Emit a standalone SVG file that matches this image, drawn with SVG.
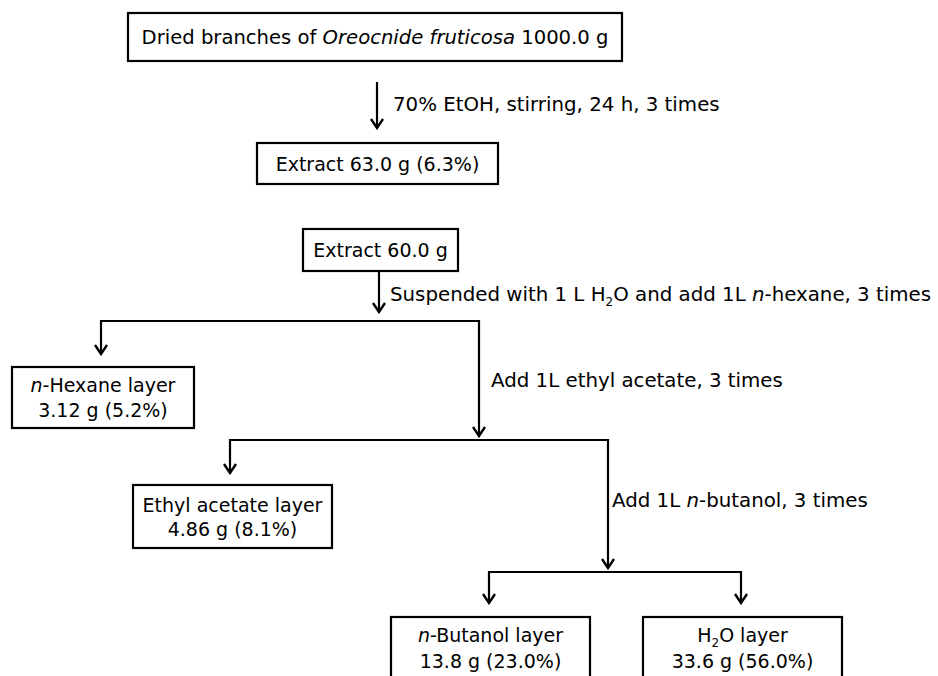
<svg xmlns="http://www.w3.org/2000/svg" width="938" height="676" viewBox="0 0 938 676">
<style>
  text { font-family: "DejaVu Sans", "Noto Sans", sans-serif; fill: #000; }
  .t { font-size: 19px; }
  .lab { font-size: 19.8px; }
  .big { font-size: 19.6px; }
  .box { fill: #fff; stroke: #000; stroke-width: 2.2; }
  .ln { fill: none; stroke: #000; stroke-width: 2.2; }
  .i { font-style: italic; }
  .sub { font-size: 12px; }
</style>
<defs>
  <marker id="ah" viewBox="0 0 14 14" markerWidth="14" markerHeight="14" refX="12.5" refY="7" orient="auto" markerUnits="userSpaceOnUse">
    <path d="M3.5,1 L12.5,7 L3.5,13" fill="none" stroke="#000" stroke-width="2.4"/>
  </marker>
</defs>
<rect width="938" height="676" fill="#fff"/>

<g id="connectors">
  <path class="ln" d="M377,82 V128" marker-end="url(#ah)"/>
  <path class="ln" d="M379,271 V312" marker-end="url(#ah)"/>
  <path class="ln" d="M101,321 H479 V436" marker-end="url(#ah)"/>
  <path class="ln" d="M101,320 V354" marker-end="url(#ah)"/>
  <path class="ln" d="M230,440 H608 V568" marker-end="url(#ah)"/>
  <path class="ln" d="M230,439 V473" marker-end="url(#ah)"/>
  <path class="ln" d="M489,572 H741 V603" marker-end="url(#ah)"/>
  <path class="ln" d="M489,571 V603" marker-end="url(#ah)"/>
</g>

<g id="labels">
  <text class="lab" x="393" y="111">70% EtOH, stirring, 24 h, 3 times</text>
  <text class="lab" x="390" y="301">Suspended with 1 L H<tspan class="sub" dy="5">2</tspan><tspan dy="-5">O and add 1L </tspan><tspan class="i">n</tspan>-hexane, 3 times</text>
  <text class="lab" x="491" y="387">Add 1L ethyl acetate, 3 times</text>
  <text class="lab" x="612" y="507">Add 1L <tspan class="i">n</tspan>-butanol, 3 times</text>
</g>

<g id="n1">
  <rect class="box" x="128" y="13" width="494" height="48"/>
  <text class="big" x="375" y="44" text-anchor="middle">Dried branches of <tspan class="i">Oreocnide fruticosa</tspan> 1000.0 g</text>
</g>
<g id="n2">
  <rect class="box" x="257" y="143" width="241" height="41"/>
  <text class="t" x="377.5" y="171" text-anchor="middle">Extract 63.0 g (6.3%)</text>
</g>
<g id="n3">
  <rect class="box" x="303" y="229" width="155" height="42"/>
  <text class="t" x="380.5" y="257" text-anchor="middle">Extract 60.0 g</text>
</g>
<g id="n4">
  <rect class="box" x="12" y="367" width="182" height="61"/>
  <text class="t" x="103" y="392" text-anchor="middle"><tspan class="i">n</tspan>-Hexane layer</text>
  <text class="t" x="103" y="417" text-anchor="middle">3.12 g (5.2%)</text>
</g>
<g id="n5">
  <rect class="box" x="133" y="485" width="199" height="63"/>
  <text class="t" x="232.5" y="512" text-anchor="middle">Ethyl acetate layer</text>
  <text class="t" x="232.5" y="536" text-anchor="middle">4.86 g (8.1%)</text>
</g>
<g id="n6">
  <rect class="box" x="391" y="617" width="199" height="70"/>
  <text class="t" x="490.5" y="642" text-anchor="middle"><tspan class="i">n</tspan>-Butanol layer</text>
  <text class="t" x="490.5" y="668" text-anchor="middle">13.8 g (23.0%)</text>
</g>
<g id="n7">
  <rect class="box" x="643" y="617" width="199" height="70"/>
  <text class="t" x="742.5" y="642" text-anchor="middle">H<tspan class="sub" dy="5">2</tspan><tspan dy="-5">O layer</tspan></text>
  <text class="t" x="742.5" y="668" text-anchor="middle">33.6 g (56.0%)</text>
</g>
</svg>
